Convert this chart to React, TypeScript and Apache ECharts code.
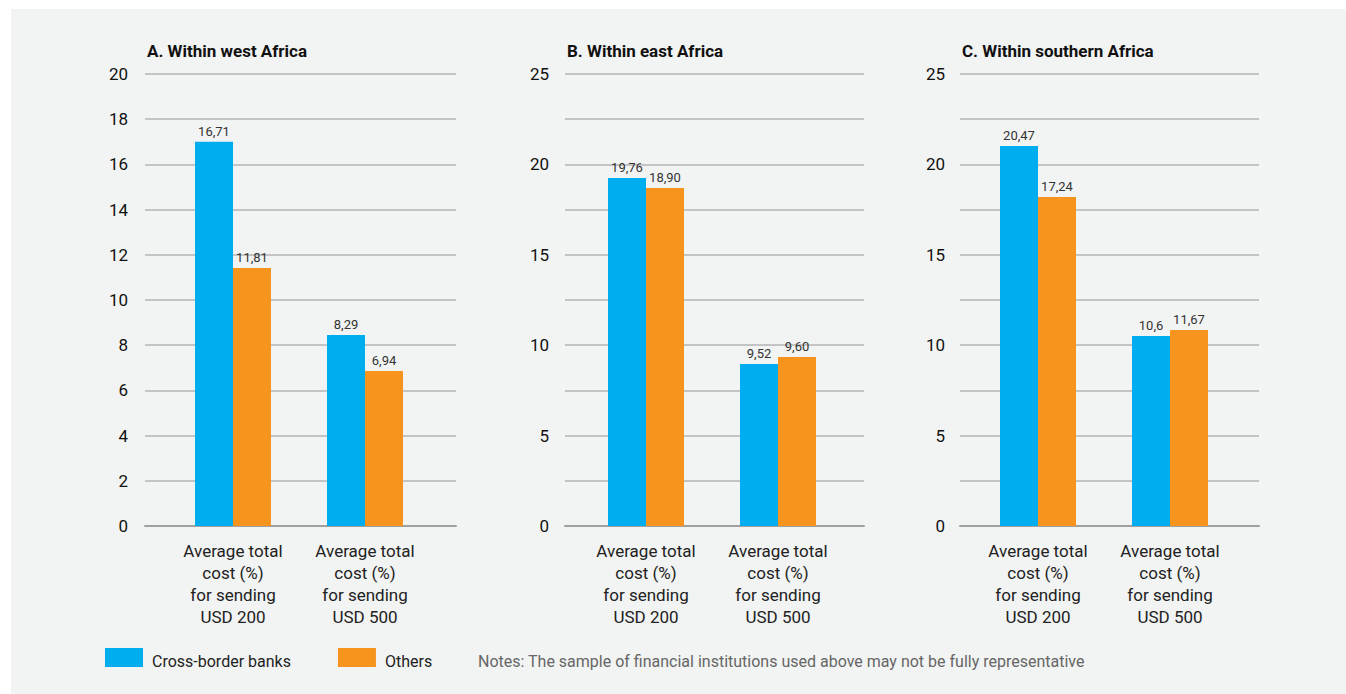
import React, { useEffect, useRef } from "react";
import * as echarts from "echarts";

const categories = [
  "Average total\ncost (%)\nfor sending\nUSD 200",
  "Average total\ncost (%)\nfor sending\nUSD 500",
];
const seriesNames = ["Cross-border banks", "Others"];
const panelTitles = ["A. Within west Africa", "B. Within east Africa", "C. Within southern Africa"];

// bar heights as drawn in the picture
const westBanks = [17.0, 8.45];
const westOthers = [11.42, 6.86];
const eastBanks = [19.25, 8.96];
const eastOthers = [18.69, 9.35];
const southBanks = [21.02, 10.51];
const southOthers = [18.2, 10.84];

// value labels as printed
const westBankLabels = ["16,71", "8,29"];
const westOtherLabels = ["11,81", "6,94"];
const eastBankLabels = ["19,76", "9,52"];
const eastOtherLabels = ["18,90", "9,60"];
const southBankLabels = ["20,47", "10,6"];
const southOtherLabels = ["17,24", "11,67"];

const yMaxes = [20, 25, 25];
const yIntervals = [2, 2.5, 2.5];
const yLabelSteps = [2, 5, 5];

const noteText = "Notes: The sample of financial institutions used above may not be fully representative";

const FONT = "Roboto, 'DejaVu Sans', sans-serif";
const BLUE = "#00aeef";
const ORANGE = "#f7941d";

export default function App() {
  const ref = useRef<HTMLDivElement>(null);
  useEffect(() => {
    document.body.style.margin = "0";
    const chart = echarts.init(ref.current!, null, { renderer: "svg" });

    const panelValues = [
      [westBanks, westOthers],
      [eastBanks, eastOthers],
      [southBanks, southOthers],
    ];
    const panelLabels = [
      [westBankLabels, westOtherLabels],
      [eastBankLabels, eastOtherLabels],
      [southBankLabels, southOtherLabels],
    ];
    const splitLeft = [145, 565, 960];
    const splitWidth = [311, 299, 299];
    const barLeft = [167, 580, 972];
    const labelMargin = [17, 16, 15];
    const top = 74;
    const height = 452;

    const grids: any[] = [];
    const xAxes: any[] = [];
    const yAxes: any[] = [];
    const series: any[] = [];
    const titles: any[] = [];

    for (let p = 0; p < 3; p++) {
      // split-line grid
      grids.push({ left: splitLeft[p], width: splitWidth[p], top, height });
      xAxes.push({
        type: "value",
        gridIndex: 2 * p,
        min: 0,
        max: 1,
        axisLine: { show: true, onZero: false, lineStyle: { color: "#a0a0a0", width: 2 } },
        axisTick: { show: false },
        axisLabel: { show: false },
        splitLine: { show: false },
      });
      const step = yLabelSteps[p];
      yAxes.push({
        type: "value",
        gridIndex: 2 * p,
        min: 0,
        max: yMaxes[p],
        interval: yIntervals[p],
        axisLine: { show: false },
        axisTick: { show: false },
        axisLabel: {
          margin: labelMargin[p],
          fontSize: 17,
          color: "#111",
          fontFamily: FONT,
          formatter: (v: number) => (Math.abs(v / step - Math.round(v / step)) < 1e-6 ? String(v) : ""),
        },
        splitLine: { show: true, lineStyle: { color: "#b4b4b4", width: 1.5 } },
      });
      // bar grid
      grids.push({ left: barLeft[p], width: 264, top, height });
      xAxes.push({
        type: "category",
        gridIndex: 2 * p + 1,
        data: categories,
        axisLine: { show: false },
        axisTick: { show: false },
        axisLabel: {
          margin: 14,
          fontSize: 17,
          lineHeight: 22,
          color: "#222",
          fontFamily: FONT,
          align: "center",
        },
      });
      yAxes.push({
        type: "value",
        gridIndex: 2 * p + 1,
        min: 0,
        max: yMaxes[p],
        interval: yIntervals[p],
        show: false,
        splitLine: { show: false },
      });
      for (let s = 0; s < 2; s++) {
        const labels = panelLabels[p][s];
        series.push({
          type: "bar",
          name: seriesNames[s],
          xAxisIndex: 2 * p + 1,
          yAxisIndex: 2 * p + 1,
          data: panelValues[p][s],
          barWidth: 38,
          barGap: "0%",
          itemStyle: { color: s === 0 ? BLUE : ORANGE },
          label: {
            show: true,
            position: "top",
            distance: 4,
            fontSize: 13,
            color: "#333",
            fontFamily: FONT,
            formatter: (params: any) => labels[params.dataIndex],
          },
          z: 3,
        });
      }
      titles.push({
        text: panelTitles[p],
        left: splitLeft[p] + 2,
        top: 42,
        textStyle: { fontSize: 17, fontWeight: "bold", color: "#111", fontFamily: FONT },
        padding: 0,
      });
    }

    chart.setOption({
      animation: false,
      backgroundColor: "#ffffff",
      title: titles,
      grid: grids,
      xAxis: xAxes,
      yAxis: yAxes,
      series,
      legend: {
        data: seriesNames,
        left: 105,
        top: 648,
        itemWidth: 38,
        itemHeight: 19,
        itemGap: 47,
        icon: "rect",
        padding: 0,
        formatter: (name: string) => `{t|${name}}`,
        textStyle: {
          fontSize: 16,
          color: "#222",
          fontFamily: FONT,
          rich: {
            t: { fontSize: 16, color: "#222", fontFamily: FONT, padding: [8, 0, 0, 4] },
          },
        },
        selectedMode: false,
      },
      graphic: [
        {
          type: "rect",
          shape: { x: 11, y: 9, width: 1335, height: 685 },
          style: { fill: "#f2f4f3" },
          z: -10,
          silent: true,
        },
        {
          type: "text",
          x: 478,
          y: 661,
          style: {
            text: noteText,
            fontSize: 16,
            fill: "#666",
            fontFamily: FONT,
            verticalAlign: "middle",
          },
          silent: true,
        },
      ],
    });
    return () => chart.dispose();
  }, []);
  return <div ref={ref} style={{ width: 1346, height: 694 }} />;
}
